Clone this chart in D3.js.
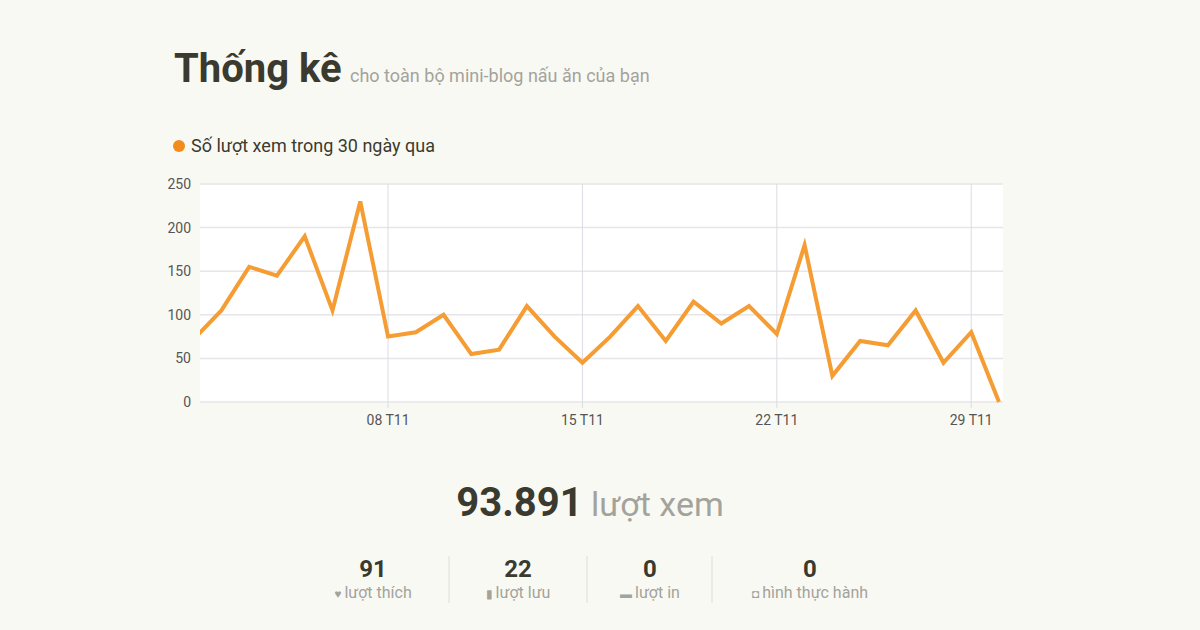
<!DOCTYPE html>
<html lang="vi">
<head>
<meta charset="UTF-8">
<script src="https://d3js.org/d3.v7.min.js"></script>
<style>
  body { margin: 0; background: #f9f9f4; font-family: Roboto, sans-serif; }
  svg { display: block; }
</style>
</head>
<body>
<svg width="1200" height="630"></svg>
<script>
const days = d3.range(1, 31);
const views = [72, 105, 155, 145, 190, 105, 230, 75, 80, 100, 55, 60, 110, 75, 45,
               75, 110, 70, 115, 90, 110, 78, 180, 30, 70, 65, 105, 45, 80, 0];
const tickDays = [8, 15, 22, 29];
const yTicks = [0, 50, 100, 150, 200, 250];
const stats = [
  { value: "91", label: "lượt thích", icon: "♥" },
  { value: "22", label: "lượt lưu", icon: "▮" },
  { value: "0", label: "lượt in", icon: "▬" },
  { value: "0", label: "hình thực hành", icon: "◘" }
];

const svg = d3.select("svg");
const plotLeft = 200, plotRight = 1003, plotTop = 184, plotBottom = 402;
const day = d => new Date(2023, 10, d);

const x = d3.scaleTime()
  .domain([new Date(2023, 10, 1, 5, 30), day(30)])
  .range([plotLeft, plotRight - 4]);
const y = d3.scaleLinear().domain([0, 250]).range([plotBottom, plotTop]);

// title
const t = svg.append("text").attr("x", 174).attr("y", 82);
t.append("tspan").text("Thống kê").attr("font-size", 40).attr("font-weight", 700).attr("fill", "#3b3a2e");
t.append("tspan").text(" cho toàn bộ mini-blog nấu ăn của bạn").attr("font-size", 18).attr("fill", "#a3a39b").attr("dx", 4);

// legend
svg.append("circle").attr("cx", 179).attr("cy", 146).attr("r", 6).attr("fill", "#f28a1c");
svg.append("text").attr("x", 191).attr("y", 152).attr("font-size", 18).attr("fill", "#3b3a2e")
  .text("Số lượt xem trong 30 ngày qua");

// plot bg
svg.append("rect").attr("x", plotLeft).attr("y", plotTop).attr("width", plotRight - plotLeft)
  .attr("height", plotBottom - plotTop).attr("fill", "#fff");

// grid
svg.append("g").selectAll("line").data(yTicks).join("line")
  .attr("x1", plotLeft).attr("x2", plotRight).attr("y1", d => y(d)).attr("y2", d => y(d))
  .attr("stroke", "#e6e6ea").attr("stroke-width", 1.5);
svg.append("g").selectAll("line").data(tickDays).join("line")
  .attr("x1", d => x(day(d))).attr("x2", d => x(day(d))).attr("y1", plotTop).attr("y2", plotBottom + 6)
  .attr("stroke", "#dcdce2");

svg.append("g").selectAll("text").data(yTicks).join("text")
  .attr("x", 191).attr("y", d => y(d) + 5).attr("text-anchor", "end")
  .attr("font-size", 14).attr("fill", "#555").text(d => d);
svg.append("g").selectAll("text").data(tickDays).join("text")
  .attr("x", d => x(day(d))).attr("y", 425).attr("text-anchor", "middle")
  .attr("font-size", 14).attr("fill", "#555").text(d => d3.format("02")(d) + " T11");

svg.append("clipPath").attr("id", "clip").append("rect")
  .attr("x", plotLeft).attr("y", plotTop - 20).attr("width", plotRight - plotLeft).attr("height", plotBottom - plotTop + 30);

svg.append("path")
  .datum(days)
  .attr("clip-path", "url(#clip)")
  .attr("fill", "none").attr("stroke", "#f59c33").attr("stroke-width", 4).attr("stroke-linejoin", "miter")
  .attr("d", d3.line().x(d => x(day(d))).y((d, i) => y(views[i])));

// totals
const tot = svg.append("text").attr("x", 590).attr("y", 516).attr("text-anchor", "middle");
tot.append("tspan").text("93.891").attr("font-size", 40).attr("font-weight", 700).attr("fill", "#3b3a2e");
tot.append("tspan").text(" lượt xem").attr("font-size", 34).attr("fill", "#a3a39b");

const cx = [373, 518, 650, 810];
const sep = [449, 587, 712];
svg.append("g").selectAll("line").data(sep).join("line")
  .attr("x1", d => d).attr("x2", d => d).attr("y1", 556).attr("y2", 603).attr("stroke", "#deded6");
const g = svg.append("g").selectAll("g").data(stats).join("g");
g.append("text").attr("x", (d, i) => cx[i]).attr("y", 577).attr("text-anchor", "middle")
  .attr("font-size", 24).attr("font-weight", 700).attr("fill", "#3b3a2e").text(d => d.value);
g.append("text").attr("x", (d, i) => cx[i]).attr("y", 598).attr("text-anchor", "middle")
  .attr("font-size", 16).attr("fill", "#a3a39b")
  .call(s => s.append("tspan").attr("font-size", 12).text(d => d.icon + " "))
  .call(s => s.append("tspan").text(d => d.label));
</script>
</body>
</html>
